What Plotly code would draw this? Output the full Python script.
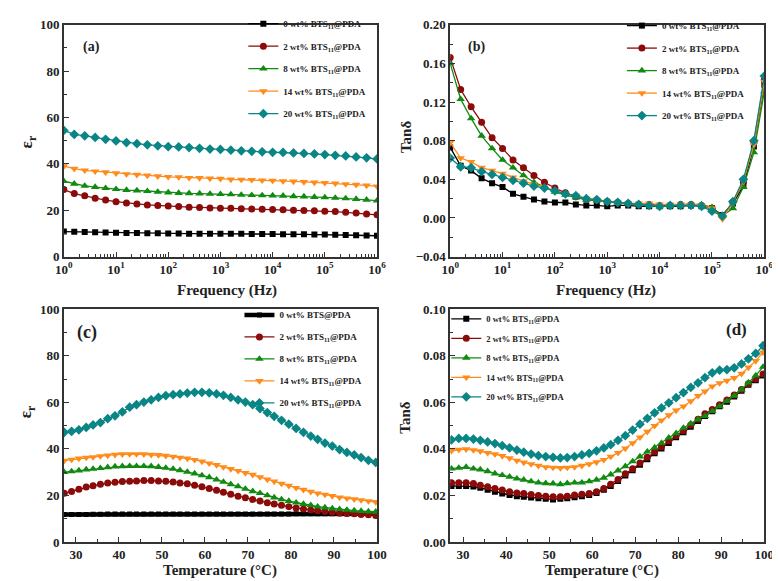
import plotly.graph_objects as go

# ---------------- data ----------------
freq = [1, 1.585, 2.512, 3.981, 6.310, 10, 15.85, 25.12, 39.81, 63.10,
        100, 158.5, 251.2, 398.1, 631.0, 1000, 1585, 2512, 3981, 6310,
        1e4, 15850, 25120, 39810, 63100, 1e5, 158500, 251200, 398100, 631000, 1e6]

eps_f_0 = [10.8, 10.7, 10.6, 10.5, 10.4, 10.3, 10.2, 10.2, 10.1, 10.1, 10.0, 10.0, 9.9, 9.9, 9.9, 9.8,
           9.8, 9.8, 9.7, 9.7, 9.7, 9.6, 9.6, 9.6, 9.5, 9.5, 9.4, 9.3, 9.2, 9.1, 9.0]
eps_f_2 = [28.9, 27.2, 26.2, 25.2, 24.4, 23.7, 23.1, 22.7, 22.3, 22.0, 21.8, 21.6, 21.3, 21.2, 21.0, 20.9,
           20.8, 20.6, 20.5, 20.4, 20.3, 20.2, 20.0, 19.9, 19.8, 19.6, 19.4, 19.1, 18.8, 18.4, 18.0]
eps_f_8 = [32.5, 31.4, 30.5, 30.0, 29.5, 29.1, 28.7, 28.5, 28.2, 27.9, 27.6, 27.4, 27.3, 27.2, 27.0, 26.9,
           26.8, 26.6, 26.5, 26.4, 26.3, 26.2, 26.0, 25.9, 25.7, 25.5, 25.3, 25.1, 24.8, 24.5, 24.1]
eps_f_14 = [39.0, 37.9, 37.2, 36.8, 36.4, 36.0, 35.6, 35.3, 35.0, 34.7, 34.4, 34.3, 34.0, 33.9, 33.7, 33.6,
            33.3, 33.2, 33.1, 32.9, 32.8, 32.6, 32.4, 32.2, 32.0, 31.8, 31.6, 31.3, 31.0, 30.7, 30.3]
eps_f_20 = [54.4, 52.7, 52.1, 51.4, 50.6, 49.9, 49.2, 48.7, 48.2, 47.8, 47.4, 47.3, 47.0, 46.7, 46.4, 46.2,
            45.9, 45.6, 45.4, 45.2, 45.0, 44.9, 44.7, 44.5, 44.3, 44.0, 43.7, 43.4, 43.0, 42.6, 42.1]

tan_f_0 = [0.073, 0.054, 0.049, 0.041, 0.036, 0.032, 0.025, 0.022, 0.019, 0.017, 0.016, 0.016, 0.014, 0.013,
           0.013, 0.012, 0.013, 0.013, 0.012, 0.012, 0.012, 0.012, 0.012, 0.013, 0.012, 0.010, 0.003, 0.015,
           0.033, 0.074, 0.138]
tan_f_2 = [0.166, 0.133, 0.115, 0.099, 0.083, 0.072, 0.060, 0.052, 0.044, 0.037, 0.031, 0.026, 0.022, 0.019,
           0.018, 0.017, 0.016, 0.015, 0.014, 0.014, 0.013, 0.013, 0.014, 0.014, 0.013, 0.010, 0.002, 0.016,
           0.037, 0.078, 0.143]
tan_f_8 = [0.160, 0.123, 0.103, 0.085, 0.072, 0.060, 0.052, 0.044, 0.037, 0.032, 0.027, 0.024, 0.021, 0.019,
           0.018, 0.017, 0.016, 0.015, 0.014, 0.013, 0.012, 0.012, 0.013, 0.014, 0.014, 0.011, 0.002, 0.010,
           0.032, 0.068, 0.131]
tan_f_14 = [0.078, 0.062, 0.058, 0.052, 0.049, 0.046, 0.042, 0.038, 0.035, 0.032, 0.028, 0.025, 0.023, 0.020,
            0.019, 0.017, 0.016, 0.015, 0.015, 0.015, 0.014, 0.014, 0.014, 0.014, 0.013, 0.010, -0.001, 0.016,
            0.038, 0.076, 0.141]
tan_f_20 = [0.062, 0.053, 0.052, 0.048, 0.045, 0.042, 0.039, 0.036, 0.033, 0.031, 0.028, 0.025, 0.023, 0.020,
            0.019, 0.017, 0.016, 0.015, 0.014, 0.013, 0.012, 0.013, 0.013, 0.013, 0.012, 0.007, 0.002, 0.017,
            0.040, 0.080, 0.147]

temp = [27.3, 29.0, 30.7, 32.4, 34.0, 35.7, 37.4, 39.1, 40.8, 42.5, 44.1, 45.8, 47.5, 49.2, 50.9,
        52.6, 54.2, 55.9, 57.6, 59.3, 61.0, 62.7, 64.3, 66.0, 67.7, 69.4, 71.1, 72.8, 74.5, 76.1,
        77.8, 79.5, 81.2, 82.9, 84.6, 86.2, 87.9, 89.6, 91.3, 93.0, 94.7, 96.3, 98.0, 99.7]

eps_t_0 = [11.8, 11.8, 11.8, 11.8, 11.9, 11.9, 12.0, 12.0, 12.0, 12.0, 12.0, 12.0, 12.0, 12.0, 12.0,
           12.0, 12.0, 12.0, 12.0, 12.0, 12.0, 12.0, 12.0, 12.0, 12.0, 12.0, 12.0, 12.0, 12.0, 12.0,
           12.0, 12.0, 12.1, 12.1, 12.1, 12.1, 12.1, 12.1, 12.1, 12.1, 12.1, 12.1, 12.1, 12.1]
eps_t_2 = [20.9, 21.7, 22.7, 23.6, 24.2, 24.8, 25.3, 25.7, 26.0, 26.1, 26.2, 26.4, 26.4, 26.2, 26.1,
           25.8, 25.4, 25.0, 24.4, 23.7, 23.0, 22.2, 21.4, 20.5, 19.7, 19.0, 18.3, 17.6, 16.9, 16.3,
           15.8, 15.2, 14.6, 14.2, 13.8, 13.4, 13.1, 12.8, 12.5, 12.3, 12.1, 11.8, 11.7, 11.4]
eps_t_8 = [30.0, 30.3, 30.7, 31.1, 31.4, 31.7, 32.1, 32.4, 32.5, 32.6, 32.6, 32.6, 32.5, 32.2, 31.8,
           31.4, 30.8, 30.1, 29.4, 28.6, 27.8, 26.8, 25.8, 24.8, 23.9, 22.8, 21.8, 21.0, 20.0, 19.1,
           18.3, 17.6, 16.9, 16.3, 15.8, 15.2, 14.8, 14.4, 14.1, 13.8, 13.5, 13.3, 13.1, 13.0]
eps_t_14 = [35.0, 35.4, 35.9, 36.3, 36.5, 36.9, 37.2, 37.5, 37.7, 37.8, 37.8, 37.7, 37.5, 37.4, 37.1,
            36.7, 36.3, 35.9, 35.3, 34.6, 33.8, 33.1, 32.2, 31.4, 30.6, 29.7, 28.9, 27.9, 26.9, 26.0,
            25.1, 24.2, 23.3, 22.5, 21.6, 20.9, 20.4, 19.8, 19.2, 18.8, 18.4, 18.0, 17.6, 17.2]
eps_t_20 = [47.1, 47.5, 48.2, 49.2, 50.3, 51.3, 53.0, 54.2, 55.9, 57.9, 59.0, 60.1, 61.1, 62.1, 62.9,
            63.3, 63.6, 64.0, 64.3, 64.3, 64.1, 63.6, 63.0, 62.1, 61.1, 60.1, 59.0, 57.3, 55.6, 54.0,
            52.3, 50.6, 48.8, 47.1, 45.5, 44.1, 42.5, 41.2, 39.7, 38.5, 37.4, 36.3, 35.1, 34.2]

tan_t_0 = [0.0241, 0.0241, 0.0241, 0.0238, 0.0233, 0.0225, 0.0216, 0.0208, 0.0202, 0.0197, 0.0194,
           0.0191, 0.0188, 0.0186, 0.0183, 0.0186, 0.0188, 0.0192, 0.0197, 0.0202, 0.0211, 0.0225,
           0.0241, 0.0262, 0.0286, 0.0308, 0.0332, 0.0356, 0.0381, 0.0402, 0.0425, 0.0450, 0.0471,
           0.0495, 0.0520, 0.0541, 0.0562, 0.0583, 0.0603, 0.0625, 0.0650, 0.0675, 0.0695, 0.0715]
tan_t_2 = [0.0255, 0.0255, 0.0255, 0.0251, 0.0244, 0.0237, 0.0230, 0.0223, 0.0216, 0.0211, 0.0208,
           0.0204, 0.0200, 0.0197, 0.0194, 0.0194, 0.0197, 0.0202, 0.0205, 0.0208, 0.0216, 0.0230,
           0.0248, 0.0269, 0.0293, 0.0315, 0.0339, 0.0364, 0.0388, 0.0409, 0.0434, 0.0457, 0.0478,
           0.0503, 0.0527, 0.0551, 0.0569, 0.0590, 0.0610, 0.0632, 0.0655, 0.0680, 0.0700, 0.0722]
tan_t_8 = [0.0315, 0.0318, 0.0322, 0.0315, 0.0311, 0.0304, 0.0294, 0.0287, 0.0280, 0.0272, 0.0267,
           0.0260, 0.0255, 0.0252, 0.0251, 0.0248, 0.0252, 0.0255, 0.0255, 0.0260, 0.0267, 0.0276,
           0.0290, 0.0307, 0.0325, 0.0346, 0.0367, 0.0388, 0.0406, 0.0425, 0.0448, 0.0467, 0.0490,
           0.0509, 0.0527, 0.0541, 0.0562, 0.0583, 0.0605, 0.0628, 0.0655, 0.0685, 0.0715, 0.0752]
tan_t_14 = [0.0392, 0.0397, 0.0399, 0.0395, 0.0390, 0.0383, 0.0377, 0.0370, 0.0360, 0.0350, 0.0342,
            0.0335, 0.0328, 0.0322, 0.0320, 0.0318, 0.0320, 0.0322, 0.0328, 0.0335, 0.0343, 0.0353,
            0.0367, 0.0383, 0.0402, 0.0425, 0.0450, 0.0474, 0.0499, 0.0523, 0.0545, 0.0565, 0.0583,
            0.0605, 0.0628, 0.0647, 0.0669, 0.0683, 0.0693, 0.0705, 0.0723, 0.0750, 0.0778, 0.0815]
tan_t_20 = [0.0439, 0.0445, 0.0445, 0.0442, 0.0437, 0.0430, 0.0423, 0.0414, 0.0404, 0.0395, 0.0386,
            0.0378, 0.0371, 0.0367, 0.0364, 0.0361, 0.0363, 0.0367, 0.0374, 0.0381, 0.0392, 0.0404,
            0.0418, 0.0437, 0.0457, 0.0481, 0.0506, 0.0531, 0.0555, 0.0576, 0.0598, 0.0620, 0.0642,
            0.0664, 0.0684, 0.0706, 0.0727, 0.0738, 0.0740, 0.0748, 0.0765, 0.0787, 0.0810, 0.0843]

labels_a = ["0 wt% BTS<sub>11</sub>@PDA", "2 wt% BTS<sub>11</sub>@PDA", "8 wt% BTS<sub>11</sub>@PDA",
            "14 wt% BTS<sub>11</sub>@PDA", "20 wt% BTS<sub>11</sub>@PDA"]
labels_c = ["0 wt% BTS@PDA", "2 wt% BTS<sub>11</sub>@PDA", "8 wt% BTS<sub>11</sub>@PDA",
            "14 wt% BTS<sub>11</sub>@PDA", "20 wt% BTS<sub>11</sub>@PDA"]
freq_ticks = [1, 10, 100, 1000, 1e4, 1e5, 1e6]
freq_ticktext = ["10<sup>0</sup>", "10<sup>1</sup>", "10<sup>2</sup>", "10<sup>3</sup>",
                 "10<sup>4</sup>", "10<sup>5</sup>", "10<sup>6</sup>"]

# ---------------- styling ----------------
W, H = 780, 581
colors = ["#000000", "#8B0A0A", "#108A10", "#FF8C1A", "#0A8585"]
symbols = ["square", "circle", "triangle-up", "triangle-down", "diamond"]
msizes = [6, 7, 7.5, 7.5, 7.5]
SERIF = "Liberation Serif"


def px(x):
    return x / W


def py(y):
    return 1 - y / H


fig = go.Figure()

panels = [
    ("a", "x", "y", freq, [eps_f_0, eps_f_2, eps_f_8, eps_f_14, eps_f_20], labels_a, "legend"),
    ("b", "x2", "y2", freq, [tan_f_0, tan_f_2, tan_f_8, tan_f_14, tan_f_20], labels_a, "legend2"),
    ("c", "x3", "y3", temp, [eps_t_0, eps_t_2, eps_t_8, eps_t_14, eps_t_20], labels_c, "legend3"),
    ("d", "x4", "y4", temp, [tan_t_0, tan_t_2, tan_t_8, tan_t_14, tan_t_20], labels_a, "legend4"),
]

for key, xa, ya, xs, series, labs, leg in panels:
    for i, (ys, lab) in enumerate(zip(series, labs)):
        lw = 1.3
        ms = msizes[i]
        if key == "c" and i == 0:
            lw = 4.5
            ms = 5
        fig.add_trace(go.Scatter(
            x=xs, y=ys, name=lab, xaxis=xa, yaxis=ya, legend=leg,
            legendgroup=f"{key}{i}",
            mode="lines+markers",
            line=dict(color=colors[i], width=lw),
            marker=dict(symbol=symbols[i], size=ms, color=colors[i],
                        line=dict(width=0)),
        ))

axis_base = dict(
    showline=True, linecolor="#333333", linewidth=1.5, mirror=True,
    ticks="inside", ticklen=5, tickwidth=1.2, tickcolor="#333333",
    showgrid=False, zeroline=False,
    tickfont=dict(family=SERIF, size=13, color="#222222", weight="bold"),
)

xa_dom_left = [px(48), px(369)]
xa_dom_right = [px(444), px(766)]
ya_dom_top = [py(248), py(10)]
ya_dom_bot = [py(541), py(302)]

log_minor = [m * 10 ** d for d in range(6) for m in range(2, 10)]

fig.update_layout(
    width=W, height=H,
    margin=dict(l=0, r=0, t=0, b=0),
    paper_bgcolor="white", plot_bgcolor="white",
    showlegend=True,
    xaxis=dict(axis_base, domain=xa_dom_left, anchor="y", type="log", range=[0, 6],
               tickmode="array", tickvals=freq_ticks, ticktext=freq_ticktext,
               minor=dict(tickmode="array", tickvals=log_minor, ticks="inside", ticklen=3,
                          tickcolor="#333333")),
    yaxis=dict(axis_base, domain=ya_dom_top, anchor="x", range=[0, 100], dtick=20,
               minor=dict(dtick=10, ticks="inside", ticklen=3, tickcolor="#333333")),
    xaxis2=dict(axis_base, domain=xa_dom_right, anchor="y2", type="log", range=[0, 6],
                tickmode="array", tickvals=freq_ticks, ticktext=freq_ticktext,
                minor=dict(tickmode="array", tickvals=log_minor, ticks="inside", ticklen=3,
                           tickcolor="#333333")),
    yaxis2=dict(axis_base, domain=ya_dom_top, anchor="x2", range=[-0.04, 0.20],
                tick0=-0.04, dtick=0.04, tickformat=".2f",
                minor=dict(dtick=0.02, ticks="inside", ticklen=3, tickcolor="#333333")),
    xaxis3=dict(axis_base, domain=xa_dom_left, anchor="y3", range=[27.2, 100], tick0=30, dtick=10,
                minor=dict(dtick=5, ticks="inside", ticklen=3, tickcolor="#333333")),
    yaxis3=dict(axis_base, domain=ya_dom_bot, anchor="x3", range=[0, 100], dtick=20,
                minor=dict(dtick=10, ticks="inside", ticklen=3, tickcolor="#333333")),
    xaxis4=dict(axis_base, domain=xa_dom_right, anchor="y4", range=[27.0, 100], tick0=30, dtick=10,
                minor=dict(dtick=5, ticks="inside", ticklen=3, tickcolor="#333333")),
    yaxis4=dict(axis_base, domain=ya_dom_bot, anchor="x4", range=[0, 0.10],
                dtick=0.02, tickformat=".2f",
                minor=dict(dtick=0.01, ticks="inside", ticklen=3, tickcolor="#333333")),
)

leg_base = dict(bgcolor="rgba(0,0,0,0)", borderwidth=0, tracegroupgap=3.5,
                xanchor="left", yanchor="top", xref="paper", yref="paper",
                font=dict(family=SERIF, size=9, color="#222222", weight="bold"))
fig.update_layout(
    legend=dict(leg_base, x=px(232), y=py(-6)),
    legend2=dict(leg_base, x=px(620), y=py(-4)),
    legend3=dict(leg_base, x=px(228), y=py(293), tracegroupgap=3),
    legend4=dict(leg_base, x=px(440), y=py(297), tracegroupgap=0.5,
                 font=dict(family=SERIF, size=8.5, color="#222222", weight="bold")),
)


def ann(text, x, y, size, angle=0):
    fig.add_annotation(text=text, x=px(x), y=py(y), xref="paper", yref="paper",
                       showarrow=False, textangle=angle, xanchor="center", yanchor="middle",
                       font=dict(family=SERIF, size=size, color="#222222", weight="bold"))


ann("(a)", 76, 33, 14)
ann("(b)", 471, 33, 14)
ann("(c)", 72, 326, 18)
ann("(d)", 737, 323, 17)
ann("Frequency (Hz)", 215, 283, 15)
ann("Frequency (Hz)", 604, 283, 15)
ann("Temperature (°C)", 208, 570, 15)
ann("Temperature (°C)", 600, 570, 15)
ann("ε<sub>r</sub>", 11, 130, 17, -90)
ann("Tanδ", 398, 125, 15, -90)
ann("ε<sub>r</sub>", 11, 407, 17, -90)
ann("Tanδ", 398, 413, 15, -90)

fig.write_html("out.html")
